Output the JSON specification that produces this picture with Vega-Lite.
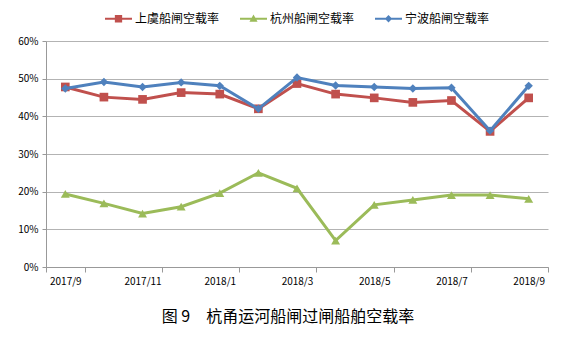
{
  "$schema": "https://vega.github.io/schema/vega-lite/v6.json",
  "autosize": {"type": "none"},
  "width": 502,
  "height": 226,
  "padding": {"left": 46, "top": 41, "right": 20, "bottom": 78},
  "background": "white",
  "config": {
    "font": "Noto Sans CJK SC",
    "view": {"stroke": null},
    "legend": {"layout": {"top": {"anchor": "middle"}}}
  },
  "title": {
    "text": "图 9　杭甬运河船闸过闸船舶空载率",
    "orient": "bottom",
    "anchor": "middle",
    "fontSize": 16,
    "fontWeight": "normal",
    "color": "#000000",
    "offset": 23,
    "dx": -9
  },
  "data": {
    "values": [
      {"month": "2017/9", "series": "上虞船闸空载率", "value": 0.478},
      {"month": "2017/10", "series": "上虞船闸空载率", "value": 0.451},
      {"month": "2017/11", "series": "上虞船闸空载率", "value": 0.445},
      {"month": "2017/12", "series": "上虞船闸空载率", "value": 0.463},
      {"month": "2018/1", "series": "上虞船闸空载率", "value": 0.459},
      {"month": "2018/2", "series": "上虞船闸空载率", "value": 0.42},
      {"month": "2018/3", "series": "上虞船闸空载率", "value": 0.487},
      {"month": "2018/4", "series": "上虞船闸空载率", "value": 0.459},
      {"month": "2018/5", "series": "上虞船闸空载率", "value": 0.449},
      {"month": "2018/6", "series": "上虞船闸空载率", "value": 0.437},
      {"month": "2018/7", "series": "上虞船闸空载率", "value": 0.442},
      {"month": "2018/8", "series": "上虞船闸空载率", "value": 0.36},
      {"month": "2018/9", "series": "上虞船闸空载率", "value": 0.449},
      {"month": "2017/9", "series": "杭州船闸空载率", "value": 0.194},
      {"month": "2017/10", "series": "杭州船闸空载率", "value": 0.169},
      {"month": "2017/11", "series": "杭州船闸空载率", "value": 0.142},
      {"month": "2017/12", "series": "杭州船闸空载率", "value": 0.16},
      {"month": "2018/1", "series": "杭州船闸空载率", "value": 0.196},
      {"month": "2018/2", "series": "杭州船闸空载率", "value": 0.25},
      {"month": "2018/3", "series": "杭州船闸空载率", "value": 0.209},
      {"month": "2018/4", "series": "杭州船闸空载率", "value": 0.07},
      {"month": "2018/5", "series": "杭州船闸空载率", "value": 0.165},
      {"month": "2018/6", "series": "杭州船闸空载率", "value": 0.178},
      {"month": "2018/7", "series": "杭州船闸空载率", "value": 0.191},
      {"month": "2018/8", "series": "杭州船闸空载率", "value": 0.191},
      {"month": "2018/9", "series": "杭州船闸空载率", "value": 0.181},
      {"month": "2017/9", "series": "宁波船闸空载率", "value": 0.474},
      {"month": "2017/10", "series": "宁波船闸空载率", "value": 0.491},
      {"month": "2017/11", "series": "宁波船闸空载率", "value": 0.478},
      {"month": "2017/12", "series": "宁波船闸空载率", "value": 0.49},
      {"month": "2018/1", "series": "宁波船闸空载率", "value": 0.481},
      {"month": "2018/2", "series": "宁波船闸空载率", "value": 0.42},
      {"month": "2018/3", "series": "宁波船闸空载率", "value": 0.503},
      {"month": "2018/4", "series": "宁波船闸空载率", "value": 0.482},
      {"month": "2018/5", "series": "宁波船闸空载率", "value": 0.478},
      {"month": "2018/6", "series": "宁波船闸空载率", "value": 0.474},
      {"month": "2018/7", "series": "宁波船闸空载率", "value": 0.476},
      {"month": "2018/8", "series": "宁波船闸空载率", "value": 0.362},
      {"month": "2018/9", "series": "宁波船闸空载率", "value": 0.481}
    ]
  },
  "encoding": {
    "x": {
      "field": "month",
      "type": "ordinal",
      "sort": null,
      "scale": {"type": "band", "paddingInner": 0, "paddingOuter": 0},
      "axis": {
        "title": null,
        "values": ["2017/9", "2017/11", "2018/1", "2018/3", "2018/5", "2018/7", "2018/9"],
        "tickBand": "extent",
        "labelAngle": 0,
        "labelFontSize": 10,
        "labelColor": "#000000",
        "labelPadding": 4,
        "domainColor": "#999999",
        "tickColor": "#999999",
        "tickSize": 5,
        "grid": false
      }
    },
    "y": {
      "field": "value",
      "type": "quantitative",
      "scale": {"domain": [0, 0.6], "nice": false},
      "axis": {
        "title": null,
        "values": [0, 0.1, 0.2, 0.3, 0.4, 0.5, 0.6],
        "format": ".0%",
        "labelFontSize": 10,
        "labelColor": "#000000",
        "labelPadding": 4,
        "domainColor": "#999999",
        "tickColor": "#999999",
        "tickSize": 4,
        "gridColor": "#b3b3b3",
        "gridWidth": 1
      }
    }
  },
  "layer": [
    {
      "mark": {"type": "point", "opacity": 0, "filled": true},
      "encoding": {
        "color": {
          "field": "series",
          "type": "nominal",
          "scale": {
            "domain": ["上虞船闸空载率", "杭州船闸空载率", "宁波船闸空载率"],
            "range": ["#C0504D", "#9BBB59", "#4F81BD"]
          },
          "legend": {
            "title": null,
            "orient": "top",
            "direction": "horizontal",
            "offset": 16,
            "symbolSize": 729,
            "symbolOpacity": 1,
            "symbolStrokeWidth": 0,
            "labelFontSize": 12,
            "labelColor": "#000000",
            "labelOffset": 3,
            "columnPadding": 20
          }
        },
        "shape": {
          "field": "series",
          "type": "nominal",
          "scale": {
            "domain": ["上虞船闸空载率", "杭州船闸空载率", "宁波船闸空载率"],
            "range": [
              "M-1,-0.07H1V0.07H-1Z M-0.27,-0.27H0.27V0.27H-0.27Z",
              "M-1,-0.07H1V0.07H-1Z M0,-0.32L0.3,0.22H-0.3Z",
              "M-1,-0.07H1V0.07H-1Z M0,-0.27L0.27,0L0,0.27L-0.27,0Z"
            ]
          },
          "legend": {
            "title": null,
            "orient": "top",
            "direction": "horizontal",
            "offset": 16,
            "symbolSize": 729,
            "symbolOpacity": 1,
            "symbolStrokeWidth": 0,
            "labelFontSize": 12,
            "labelColor": "#000000",
            "labelOffset": 3,
            "columnPadding": 20
          }
        }
      }
    },
    {
      "transform": [{"filter": "datum.series === '上虞船闸空载率'"}],
      "mark": {"type": "line", "color": "#C0504D", "strokeWidth": 3}
    },
    {
      "transform": [{"filter": "datum.series === '上虞船闸空载率'"}],
      "mark": {"type": "point", "shape": "square", "filled": true, "opacity": 1, "color": "#C0504D", "size": 75}
    },
    {
      "transform": [{"filter": "datum.series === '杭州船闸空载率'"}],
      "mark": {"type": "line", "color": "#9BBB59", "strokeWidth": 3}
    },
    {
      "transform": [{"filter": "datum.series === '杭州船闸空载率'"}],
      "mark": {"type": "point", "shape": "triangle-up", "filled": true, "opacity": 1, "color": "#9BBB59", "size": 80}
    },
    {
      "transform": [{"filter": "datum.series === '宁波船闸空载率'"}],
      "mark": {"type": "line", "color": "#4F81BD", "strokeWidth": 3}
    },
    {
      "transform": [{"filter": "datum.series === '宁波船闸空载率'"}],
      "mark": {"type": "point", "shape": "diamond", "filled": true, "opacity": 1, "color": "#4F81BD", "size": 70}
    }
  ]
}
